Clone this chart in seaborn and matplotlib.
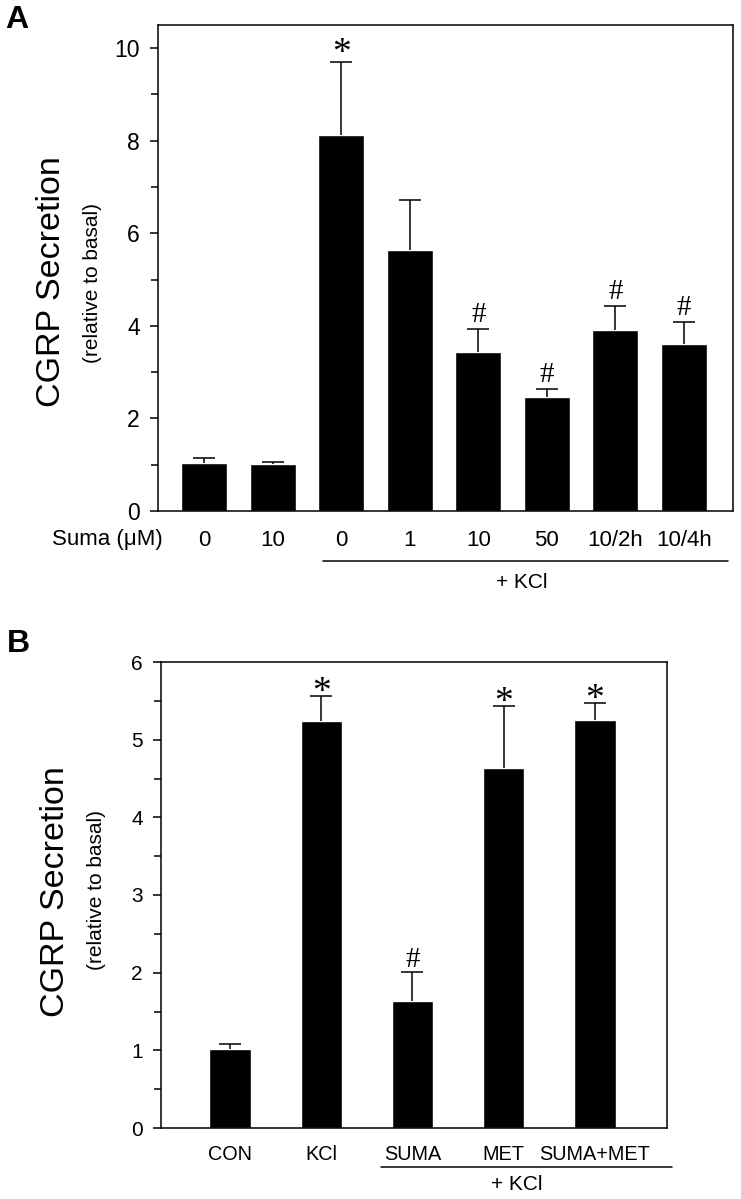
import numpy as np
import pandas as pd
import seaborn as sns
import matplotlib.pyplot as plt
from matplotlib.lines import Line2D

# Panel A data: CGRP secretion vs sumatriptan dose
conditions_a = ['basal 0', 'basal 10', 'KCl 0', 'KCl 1', 'KCl 10', 'KCl 50', 'KCl 10/2h', 'KCl 10/4h']
ticklabels_a = ['0', '10', '0', '1', '10', '50', '10/2h', '10/4h']
mean_a = [1.04, 1.01, 8.12, 5.64, 3.43, 2.46, 3.91, 3.61]
sem_a = [0.10, 0.05, 1.58, 1.08, 0.50, 0.17, 0.52, 0.47]
marks_a = ['', '', '*', '', '#', '#', '#', '#']

# Panel B data
conditions_b = ['CON', 'KCl', 'SUMA', 'MET', 'SUMA+MET']
mean_b = [1.02, 5.24, 1.63, 4.63, 5.25]
sem_b = [0.06, 0.32, 0.38, 0.80, 0.22]
marks_b = ['', '*', '#', '*', '*']

sns.set_style('ticks')
plt.rcParams['font.family'] = ['Liberation Sans', 'DejaVu Sans']
plt.rcParams['axes.linewidth'] = 1.1
for key in ['text.color', 'axes.labelcolor', 'xtick.color', 'ytick.color', 'axes.edgecolor']:
    plt.rcParams[key] = 'black'

W, H = 741, 1199
fig = plt.figure(figsize=(W / 100, H / 100), dpi=100)


def fx(px):
    return px / W


def fy(py):
    return 1 - py / H


def draw_panel(ax, conditions, means, sems, marks, width, star_off, hash_off):
    df = pd.DataFrame({'cond': conditions, 'val': means})
    sns.barplot(data=df, x='cond', y='val', order=conditions, color='black',
                saturation=1, width=width, errorbar=None, ax=ax)
    n = len(means)
    _, caps, _ = ax.errorbar(np.arange(n), means, yerr=[np.zeros(n), sems], fmt='none',
                             ecolor='black', elinewidth=1.1, capsize=8, capthick=1.1)
    # only the upper cap is shown
    caps[0].set_visible(False)
    for i, m in enumerate(marks):
        if not m:
            continue
        top = means[i] + sems[i]
        if m == '*':
            ax.annotate('*', xy=(i, top), xytext=(0, star_off), textcoords='offset points',
                        ha='center', va='baseline', fontsize=27, family='Liberation Serif')
        else:
            ax.annotate('#', xy=(i, top), xytext=(0, hash_off), textcoords='offset points',
                        ha='center', va='baseline', fontsize=21, family='Liberation Serif')
    for s in ['top', 'right', 'left', 'bottom']:
        ax.spines[s].set_visible(True)
        ax.spines[s].set_color('black')
    ax.set_xlabel('')
    ax.set_ylabel('')
    ax.tick_params(axis='x', length=0)
    ax.tick_params(axis='y', which='major', direction='out', length=6, width=1.1, pad=7)
    ax.tick_params(axis='y', which='minor', direction='out', length=5, width=1.1)


# ---- Panel A ----
ax_a = fig.add_axes([fx(158), fy(511), fx(733 - 158), (511 - 25) / H])
draw_panel(ax_a, conditions_a, mean_a, sem_a, marks_a, 0.67, -1, 5)
ax_a.set_ylim(0, 10.5)
ax_a.set_xlim(-0.671, 7.715)
ax_a.set_yticks([0, 2, 4, 6, 8, 10])
ax_a.set_yticks([1, 3, 5, 7, 9], minor=True)
ax_a.tick_params(axis='y', labelsize=16.5)
ax_a.set_xticks(range(len(ticklabels_a)))
ax_a.set_xticklabels(ticklabels_a, fontsize=16)
ax_a.tick_params(axis='x', pad=14)

fig.text(fx(163), fy(539), 'Suma (\u03bcM)', ha='right', va='center', fontsize=16)
fig.add_artist(Line2D([fx(323), fx(728)], [fy(561), fy(561)], color='black', lw=1.1))
fig.text(fx(522), fy(583), '+ KCl', ha='center', va='center', fontsize=15)
fig.text(fx(52), fy(282), 'CGRP Secretion', rotation=90, ha='center', va='center', fontsize=24.5)
fig.text(fx(93), fy(283), '(relative to basal)', rotation=90, ha='center', va='center', fontsize=15)
fig.text(fx(5), fy(5), 'A', ha='left', va='top', fontsize=23, fontweight='bold')

# ---- Panel B ----
ax_b = fig.add_axes([fx(161), fy(1128), fx(667 - 161), (1128 - 662) / H])
draw_panel(ax_b, conditions_b, mean_b, sem_b, marks_b, 0.45, -4, 3.5)
ax_b.set_ylim(0, 6)
ax_b.set_xlim(-0.756, 4.789)
ax_b.set_yticks([0, 1, 2, 3, 4, 5, 6])
ax_b.set_yticks([0.5, 1.5, 2.5, 3.5, 4.5, 5.5], minor=True)
ax_b.tick_params(axis='y', labelsize=15)
ax_b.set_xticks(range(len(conditions_b)))
ax_b.set_xticklabels(conditions_b, fontsize=14.3)
ax_b.tick_params(axis='x', pad=12)

fig.add_artist(Line2D([fx(381), fx(672)], [fy(1167), fy(1167)], color='black', lw=1.1))
fig.text(fx(517), fy(1185), '+ KCl', ha='center', va='center', fontsize=15)
fig.text(fx(56), fy(892), 'CGRP Secretion', rotation=90, ha='center', va='center', fontsize=24.5)
fig.text(fx(97), fy(890), '(relative to basal)', rotation=90, ha='center', va='center', fontsize=15)
fig.text(fx(7), fy(629), 'B', ha='left', va='top', fontsize=23, fontweight='bold')

fig.savefig('out.png', dpi=100, facecolor='white')
